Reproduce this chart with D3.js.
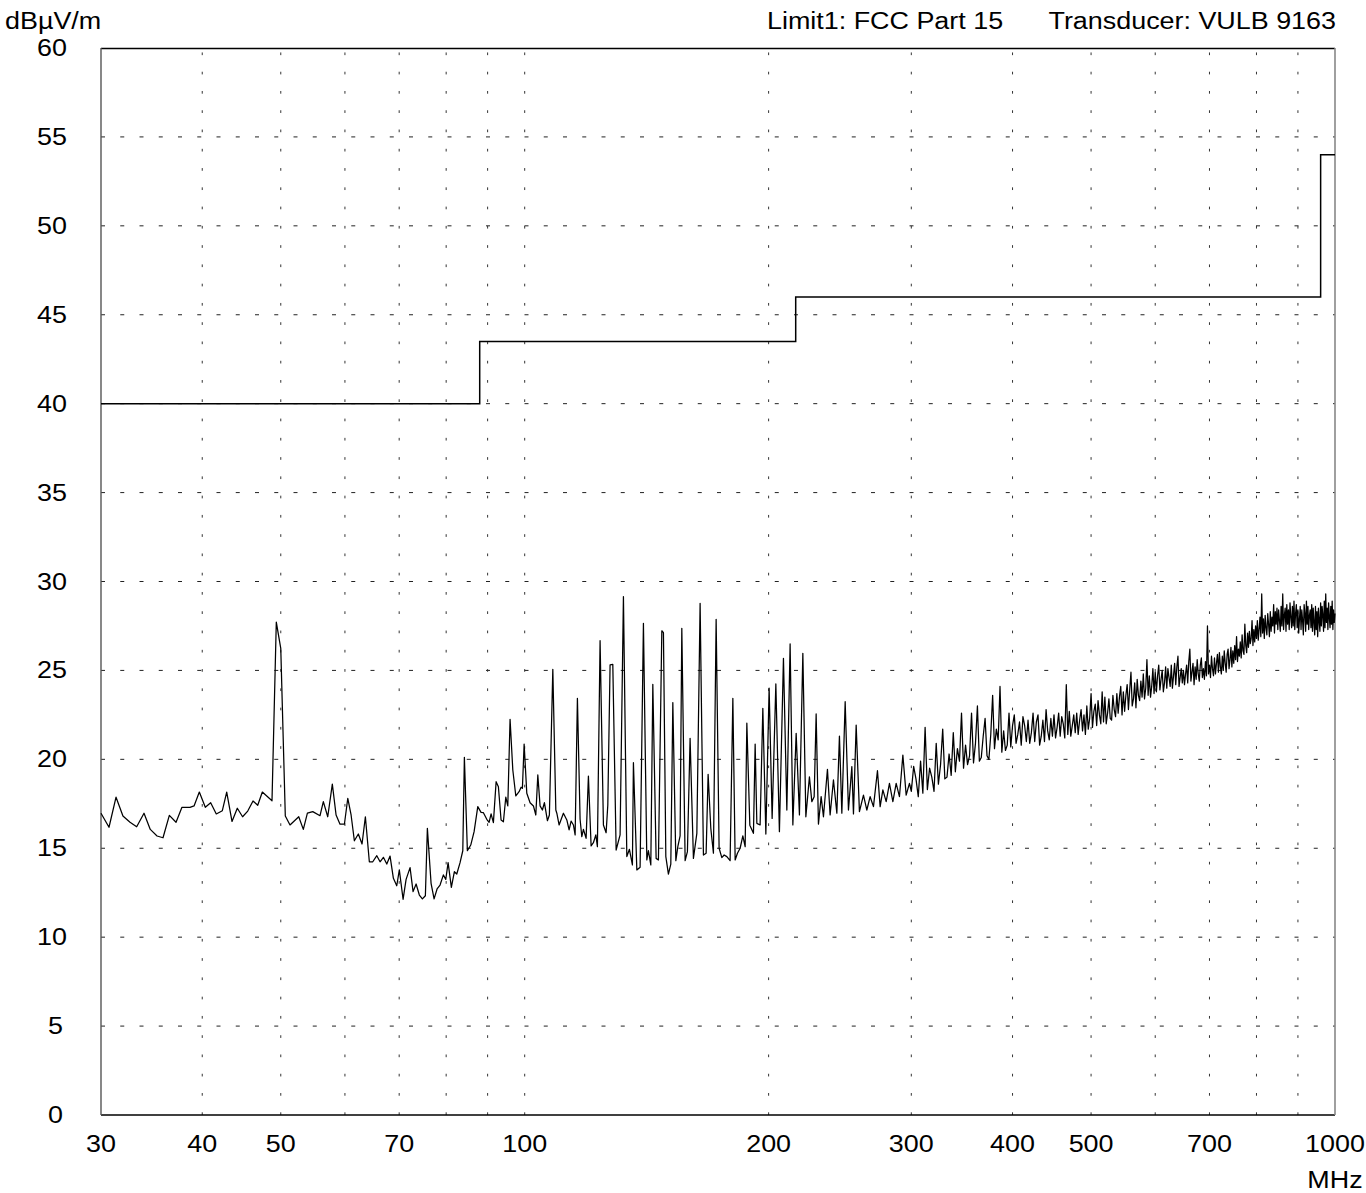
<!DOCTYPE html>
<html><head><meta charset="utf-8">
<script src="https://cdn.jsdelivr.net/npm/d3@7"></script>
<style>
body{margin:0;background:#fff}
text{font-family:"Liberation Sans",Arial,sans-serif;font-size:23px;fill:#000}
</style>
</head><body>
<svg id="c" width="1366" height="1193"></svg>
<script>
// ---------- data ----------
const yTicks = [0,5,10,15,20,25,30,35,40,45,50,55,60];
const xGrid = [40,50,60,70,80,90,100,200,300,400,500,600,700,800,900];
const xLabels = [30,40,50,70,100,200,300,400,500,700,1000];

// limit line FCC Part 15 (step after)
const limitFreq  = [30, 88, 216, 960, 1000];
const limitLevel = [40, 43.5, 46, 54, 54];

const freqLow = [
30.00,30.69,31.31,31.93,32.58,33.20,33.90,34.51,35.18,35.78,
36.43,37.13,37.76,38.63,39.08,39.67,40.35,40.97,41.63,42.35,
42.88,43.53,44.19,44.86,45.52,46.21,46.83,47.45,48.77,49.37,
50.00,50.65,51.33,52.62,53.31,53.93,54.76,55.90,56.43,57.14,
57.89,58.51,59.17,59.91,60.49,61.06,61.63,62.33,62.99,63.59,
64.31,64.94,65.69,66.30,66.93,67.58,68.21,68.86,69.52,70.03,
70.78,71.39,72.20,72.82,73.45,74.13,74.77,75.41,75.84,76.64,
77.30,77.96,78.62,79.37,79.91,80.44,81.19,81.89,82.45,83.22,
83.87,84.25,84.97,85.79,86.61,87.52,88.34,88.93,89.79,90.38,
90.89,91.49,92.20,92.80,93.51,94.13,94.77,95.31,95.93,96.68,
97.51,98.42,98.98,99.35,99.84,100.60,101.54,102.51,103.21,103.80,
104.47,105.16,105.76,106.67,107.27,108.32,109.25,109.56,110.27,111.63,
112.72,113.45,114.10,114.85,115.41,116.16,117.05,117.62,118.16,119.07,
119.85,120.77,121.56,122.40,122.95,123.89,125.07,126.03,126.64,127.46,
128.45,129.67,131.14,132.39,133.67,134.66,135.81,136.20,137.53,138.81,
140.13,141.49,142.13,143.10,143.92,145.28,146.23,147.65,148.33,149.34,
150.44,151.47,152.34,153.65,154.52,155.52,156.28,157.76,158.79,160.00,
161.52,163.10,164.62,166.18,167.46,168.41,169.70,170.97,172.29,173.75,
175.10,176.25,177.61,179.27,180.67,181.86,183.04,184.44,185.87,187.10,
188.00,189.60,191.56,192.49,193.42,195.22,196.74,198.43,200.29,202.01,
204.15,206.23,208.61,210.63,212.60,214.26,216.28,218.30,220.43,222.32,
224.59,226.13,227.63,228.92,230.42,232.19,233.72,236.39,238.19,240.46,
242.79,244.58,246.26,248.60,250.93,253.36,254.53,256.49,258.88,261.86,
264.40,266.87,269.41,272.49,274.57,276.71,279.32,281.93,284.68,287.37,
290.06,292.89,295.65,298.41];
const levelLow = [
16.97,16.18,17.87,16.81,16.46,16.21,16.97,16.06,15.69,15.59,
16.85,16.46,17.30,17.30,17.38,18.16,17.30,17.56,16.93,17.11,
18.16,16.51,17.25,16.77,17.09,17.66,17.42,18.16,17.67,27.72,
26.24,16.81,16.31,16.77,16.06,16.97,17.06,16.83,17.62,16.77,
18.61,16.87,16.35,16.35,17.81,16.87,15.42,15.80,15.24,16.77,
14.24,14.24,14.58,14.24,14.49,14.11,14.56,13.31,12.89,13.78,
12.13,13.25,13.91,12.56,12.99,12.37,12.15,12.33,16.12,13.03,
12.15,12.71,12.93,13.50,13.25,14.19,12.80,13.68,13.55,14.19,
14.86,20.11,14.86,15.18,15.93,17.34,17.02,17.00,16.63,16.46,
16.93,16.44,18.74,18.46,16.59,16.49,17.87,17.38,22.25,19.40,
17.94,18.18,18.43,18.37,20.86,18.09,17.56,17.38,16.87,19.12,
17.38,17.15,17.56,16.55,16.87,25.06,17.15,16.97,16.31,16.97,
16.59,16.03,16.53,16.31,15.75,23.43,16.63,15.65,16.06,15.56,
19.06,15.13,15.31,15.75,15.09,26.67,16.31,15.87,17.43,25.31,
25.34,14.90,15.75,29.15,14.53,14.94,14.06,19.81,13.78,13.93,
27.65,14.34,14.86,14.06,24.22,14.43,14.34,27.23,27.12,14.53,
13.55,14.11,23.19,14.30,15.09,15.69,27.37,14.30,14.81,21.18,
14.43,15.84,28.77,14.62,14.72,19.16,16.12,14.72,27.87,15.00,
14.47,14.62,14.53,14.30,23.43,14.34,14.72,15.00,15.69,15.09,
22.03,16.30,15.84,20.86,16.40,16.31,22.87,15.80,24.00,16.68,
24.24,15.93,25.68,17.15,26.49,16.31,21.46,16.87,25.96,16.77,
19.02,17.62,17.90,22.55,16.36,17.90,16.77,19.44,16.87,18.84,
16.97,21.31,16.97,23.24,17.15,19.59,16.93,21.93,17.06,17.99,
17.15,17.90,17.34,19.36,17.34,18.28,17.62,18.65,17.62,18.65,
17.90,20.24,17.99,18.65];

// measured trace, 300 - 1000 MHz sweep, 2 MHz step
const sweepStart = 300, sweepStep = 2;
const levelHigh = [
18.2,19.6,18.9,17.9,19.9,18.1,21.8,18.3,19.5,19.0,18.2,20.9,18.6,19.7,21.7,18.9,19.0,20.3,19.1,21.5,19.3,20.6,19.9,22.6,19.5,
20.8,19.7,20.2,22.6,19.8,20.9,23.0,19.9,20.1,21.3,22.3,20.2,20.0,21.4,23.6,20.6,21.7,21.1,24.1,20.4,21.6,20.5,20.8,22.6,20.7,
21.9,22.5,20.9,21.4,22.1,20.8,22.4,21.9,21.0,22.2,20.9,21.5,22.6,21.0,22.1,22.5,20.8,21.3,22.2,21.0,22.8,21.6,21.1,22.3,21.3,
22.5,21.2,21.8,22.6,21.3,22.4,22.0,21.2,24.2,21.4,22.7,21.3,21.9,22.5,21.5,22.6,21.4,22.2,22.8,21.6,22.5,21.4,23.0,21.7,22.3,
23.7,21.8,22.7,23.1,21.9,23.3,22.5,22.0,23.8,22.1,23.5,22.0,22.6,23.4,22.3,22.2,23.6,22.8,22.4,23.7,22.6,23.5,24.1,22.5,23.8,
22.7,23.6,24.2,22.8,23.9,24.9,23.0,23.4,24.3,22.9,24.5,23.6,23.3,24.4,23.5,24.8,23.4,24.0,25.6,23.6,24.7,23.5,24.1,25.1,23.7,
24.9,23.8,24.7,25.3,23.9,24.5,25.0,23.8,24.3,25.2,24.0,25.1,24.6,24.1,25.3,24.0,24.7,25.4,24.2,25.2,25.8,24.1,24.6,25.1,24.3,
25.0,24.2,24.8,25.3,24.3,25.5,26.2,24.4,24.9,25.4,24.2,25.2,24.5,25.6,24.8,24.4,25.3,25.7,24.6,25.1,24.5,25.5,24.7,27.5,24.8,
25.3,24.6,25.8,25.1,24.7,25.7,24.8,25.4,25.9,24.9,26.0,25.2,24.8,25.8,25.0,26.1,25.4,24.9,25.9,26.2,25.1,25.6,26.3,25.2,26.1,
25.4,26.4,25.6,26.9,25.5,26.2,25.8,26.6,25.7,27.0,26.1,25.9,27.6,26.4,26.0,27.1,26.3,27.2,26.5,26.8,27.8,26.4,27.3,26.6,27.5,
26.8,27.8,26.7,27.3,28.0,26.9,29.3,27.1,27.9,26.8,28.1,27.4,27.0,28.2,27.6,26.9,28.3,27.2,28.0,27.5,28.7,27.1,28.3,27.6,28.5,
27.3,28.4,27.8,27.2,28.6,27.5,29.3,27.3,28.1,28.5,27.2,28.7,27.6,28.4,27.3,28.8,28.0,27.4,28.6,27.5,28.9,27.3,28.2,28.7,27.4,
28.4,27.1,27.9,28.6,27.3,28.4,27.8,27.0,28.7,28.2,27.2,28.9,27.6,28.6,27.3,28.1,28.4,27.4,28.7,27.2,28.5,27.7,27.0,28.6,27.3,
28.3,26.9,28.5,27.8,27.2,28.8,27.5,28.6,28.1,27.2,28.9,27.4,29.3,27.7,28.5,27.3,28.8,28.0,27.4,28.6,27.6,28.9,27.3,28.4,27.7,28.2];

// ---------- chart ----------
const L = 101, R = 1335, T = 48, B = 1115;
const SX = 1.17; // horizontal stretch of the original lettering
const svg = d3.select("#c");
const x = d3.scaleLog().domain([30,1000]).range([L,R]);
const y = d3.scaleLinear().domain([0,60]).range([B,T]);

// grid
svg.append("g").selectAll("line").data(yTicks.filter(v=>v>0&&v<60)).join("line")
  .attr("x1",L).attr("x2",R).attr("y1",d=>y(d)).attr("y2",d=>y(d))
  .attr("stroke","#222").attr("stroke-width",1).attr("stroke-dasharray","4,15.25");
svg.append("g").selectAll("line").data(xGrid).join("line")
  .attr("x1",d=>x(d)).attr("x2",d=>x(d)).attr("y1",B).attr("y2",T)
  .attr("stroke","#333").attr("stroke-width",1).attr("stroke-dasharray","2.7,16.57");

// frame
svg.append("line").attr("x1",L).attr("x2",R).attr("y1",T+0.5).attr("y2",T+0.5).attr("stroke","#000").attr("stroke-width",1.4);
svg.append("line").attr("x1",L).attr("x2",R).attr("y1",B).attr("y2",B).attr("stroke","#000").attr("stroke-width",1.4);
svg.append("line").attr("x1",L).attr("x2",L).attr("y1",T).attr("y2",B).attr("stroke","#555").attr("stroke-width",1.4);
svg.append("line").attr("x1",R).attr("x2",R).attr("y1",T).attr("y2",B).attr("stroke","#888").attr("stroke-width",1.6);

// limit line
const limitData = limitFreq.map((f,i)=>({f, l: limitLevel[i]}));
svg.append("path").datum(limitData)
  .attr("fill","none").attr("stroke","#000").attr("stroke-width",1.5)
  .attr("d", d3.line().x(d=>x(d.f)).y(d=>y(d.l)).curve(d3.curveStepAfter));

// trace
const trace = freqLow.map((f,i)=>({f, l: levelLow[i]}))
  .concat(levelHigh.map((l,i)=>({f: sweepStart + i*sweepStep, l})));
svg.append("path").datum(trace)
  .attr("fill","none").attr("stroke","#000").attr("stroke-width",1.25).attr("stroke-linejoin","round")
  .attr("d", d3.line().x(d=>x(d.f)).y(d=>y(d.l)));

// y labels
svg.append("g").selectAll("text").data(yTicks).join("text")
  .attr("text-anchor","end")
  .attr("transform", d=>`translate(${d<10?63:67},${y(d)+8}) scale(${SX},1)`)
  .text(d=>d);
// x labels
svg.append("g").selectAll("text").data(xLabels).join("text")
  .attr("text-anchor","middle")
  .attr("transform", d=>`translate(${x(d)},1152) scale(${SX},1)`)
  .text(d=>d);
svg.append("text").attr("text-anchor","middle")
  .attr("transform",`translate(${x(1000)},1188) scale(${SX},1)`).text("MHz");

// header
svg.append("text").attr("transform",`translate(5,29) scale(${SX},1)`).text("dBµV/m");
svg.append("text").attr("transform",`translate(767,29) scale(${SX},1)`).text("Limit1: FCC Part 15");
svg.append("text").attr("text-anchor","end").attr("transform",`translate(1336,29) scale(${SX},1)`).text("Transducer: VULB 9163");
</script>
</body></html>
